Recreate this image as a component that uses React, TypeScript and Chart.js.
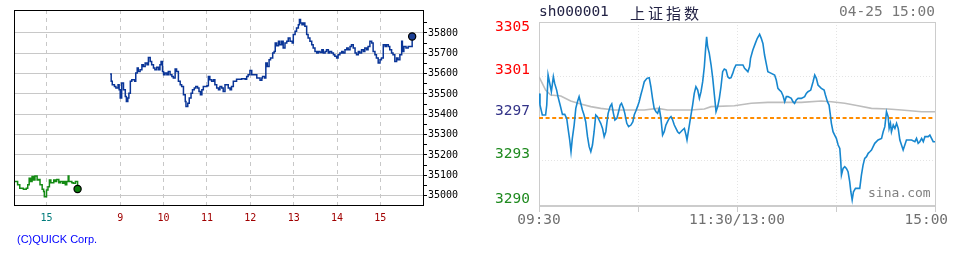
import { useEffect, useRef } from 'react';
import { Chart, registerables } from 'chart.js';
Chart.register(...registerables);

// ---------- Left chart (QUICK, Nikkei) ----------
const nkTickPos = [0, 102, 162, 222, 282, 342, 402, 462];
const nkTickLabels = ['15', '9', '10', '11', '12', '13', '14', '15'];
const nkYTicks = [35000, 35100, 35200, 35300, 35400, 35500, 35600, 35700, 35800];
const nkPrevTimes = [-44, -41, -40, -37, -32, -28, -26, -24, -22, -20, -18, -16, -13, -11, -9, -6, -4, -3, 0, 2, 4, 6, 10, 12, 14, 17, 19, 22, 24, 26, 28, 30, 31, 35, 37, 40, 43, 43];
const nkPrevValues = [35069, 35069, 35053, 35036, 35031, 35036, 35053, 35086, 35069, 35094, 35077, 35097, 35077, 35080, 35053, 35031, 35020, 34995, 35028, 35044, 35077, 35064, 35077, 35069, 35080, 35064, 35069, 35061, 35069, 35053, 35069, 35097, 35069, 35064, 35061, 35069, 35069, 35033];
const nkTimes = [88, 89.5, 91, 94, 96, 99, 100.5, 102, 104, 106.5, 109, 110.5, 112.5, 114, 116, 118, 122, 123.5, 125.5, 127, 129.5, 132, 134, 136.5, 139, 141, 143.5, 145.5, 148, 150, 152.5, 155, 157, 158.5, 160.5, 162, 164, 166.5, 168.5, 171, 173.5, 175.5, 178, 180, 182.5, 185, 187, 189.5, 192, 193, 195.5, 197.5, 200, 202, 204.5, 206.5, 209, 211, 213, 215, 217, 222, 224, 226, 228.5, 231, 233, 235.5, 238, 240, 242.5, 244.5, 247, 249.5, 251.5, 254, 256, 258.5, 261, 263, 270, 275, 277, 279, 281.5, 284, 288.5, 291, 295.5, 298, 299, 302, 303.5, 305.5, 308, 310, 313, 315, 316.5, 318.5, 321, 323, 325.5, 327.5, 330, 332.5, 334.5, 337, 340, 341.5, 344, 346, 348.5, 350, 351.5, 353.5, 355.5, 357.5, 360, 362, 364.5, 367, 369, 371.5, 374, 376, 378.5, 381, 383, 385.5, 387.5, 390, 392, 394.5, 397, 399, 401.5, 403.5, 406, 408.5, 410.5, 413, 415.5, 417.5, 420, 422, 424.5, 427, 429, 431.5, 433.5, 436, 438.5, 440.5, 443, 445, 447.5, 450, 452, 454.5, 456.5, 459, 461.5, 463.5, 466, 468.5, 470.5, 473, 475, 477.5, 479.5, 482, 484.5, 486.5, 489, 491.5, 492.5, 494.5, 497.5, 500.5, 505, 506];
const nkValues = [35598, 35562, 35545, 35537, 35529, 35545, 35521, 35480, 35554, 35521, 35488, 35463, 35480, 35504, 35562, 35570, 35562, 35603, 35628, 35611, 35619, 35644, 35635, 35652, 35644, 35680, 35660, 35644, 35628, 35619, 35632, 35619, 35644, 35660, 35611, 35595, 35603, 35595, 35611, 35595, 35586, 35578, 35623, 35611, 35562, 35545, 35537, 35496, 35463, 35438, 35455, 35480, 35504, 35521, 35529, 35537, 35529, 35512, 35496, 35521, 35537, 35540, 35586, 35570, 35562, 35570, 35545, 35529, 35521, 35537, 35529, 35512, 35545, 35545, 35529, 35521, 35537, 35562, 35562, 35573, 35575, 35573, 35586, 35595, 35616, 35595, 35595, 35578, 35567, 35578, 35586, 35578, 35652, 35635, 35668, 35677, 35701, 35709, 35751, 35737, 35759, 35742, 35759, 35726, 35751, 35759, 35775, 35759, 35751, 35792, 35808, 35825, 35841, 35866, 35849, 35841, 35849, 35833, 35792, 35775, 35759, 35742, 35726, 35709, 35701, 35709, 35704, 35718, 35701, 35709, 35718, 35701, 35709, 35701, 35693, 35685, 35677, 35693, 35701, 35709, 35701, 35718, 35726, 35718, 35734, 35742, 35726, 35701, 35693, 35709, 35701, 35718, 35709, 35726, 35718, 35734, 35759, 35751, 35709, 35693, 35677, 35652, 35668, 35677, 35742, 35734, 35742, 35734, 35718, 35701, 35693, 35660, 35677, 35668, 35693, 35759, 35709, 35734, 35726, 35734, 35734, 35783];

// ---------- Right chart (sina, sh000001) ----------
const shPrevClose = 3297.29;
const shXTicks = [0, 60, 120, 180, 240];
const shXLabels = ['09:30', '', '11:30/13:00', '', '15:00  '];
const shYLabelValues = [3290.2, 3294.12, 3297.86, 3301.46, 3305.2];
const shYLabels = ['3290', '3293', '3297', '3301', '3305'];
const shYLabelColors = ['#1f8a1f', '#1f8a1f', '#333388', '#ff0000', '#ff0000'];
const shGridValues = [3293.64, 3300.94];
const shTimes = [0, 0.6, 2, 4, 4.7, 5.5, 6.7, 7.5, 8.7, 9.5, 10.7, 11.5, 12.8, 14.2, 15.6, 16.8, 17.6, 18.6, 19.4, 20.2, 21.3, 22.3, 23.3, 24.3, 25.3, 26.3, 27.3, 28.3, 29.4, 30.4, 31.4, 32.4, 33.4, 34.4, 35.4, 36.4, 37.4, 38.5, 39.5, 40.5, 41.1, 41.9, 43.1, 44.1, 45.1, 46, 47.2, 48, 49.2, 50, 51.2, 52, 53.2, 54.3, 55.7, 56.9, 57.7, 58.7, 59.7, 60.7, 61.7, 62.8, 63.8, 65.4, 66.8, 67.8, 68.8, 69.8, 70.9, 71.9, 72.9, 73.9, 74.9, 75.9, 76.9, 77.9, 78.9, 80, 81, 82, 83, 84, 85, 86, 87, 88.1, 89.1, 89.7, 90.5, 91.3, 92.1, 93.1, 94.1, 95.1, 96.2, 97.2, 98.2, 99.2, 100.2, 101, 101.6, 102.2, 103.2, 104.3, 105.3, 106.3, 107.3, 108.3, 109.3, 110.3, 111.3, 112.3, 113.4, 114.4, 115.4, 116.4, 117.4, 118.4, 119.4, 120.5, 123.6, 124.6, 126.6, 127.6, 128.2, 129.6, 131.1, 132.3, 133.7, 134.7, 135.7, 136.7, 137.7, 138.7, 140.8, 142.8, 143.8, 144.8, 145.8, 146.8, 147.9, 148.9, 149.9, 150.9, 152.9, 153.9, 154.9, 155.9, 157, 159, 161, 162, 163, 164.7, 166.1, 167.1, 168.1, 169.1, 171.1, 172.8, 173.6, 174.8, 175.8, 176.6, 177.2, 178.2, 179.2, 180.2, 181.3, 182.3, 182.9, 183.3, 184.3, 185.3, 186.3, 187.3, 188.3, 189, 189.8, 190.6, 191.8, 194.4, 195.4, 196.4, 197.4, 198.5, 199.5, 200.5, 201.5, 202.5, 203.5, 205.5, 207.6, 208.6, 209.6, 210.6, 211.6, 212.2, 213, 213.6, 214.7, 215.7, 216.7, 217.7, 218.7, 219.7, 220.7, 221.7, 222.7, 225.8, 227.8, 228.8, 229.8, 230.8, 231.9, 232.9, 233.9, 235.9, 236.9, 237.9, 238.9, 240];
const shPrices = [3299.43, 3298.42, 3297.55, 3297.55, 3298.42, 3301.03, 3300.16, 3299.58, 3300.88, 3300.3, 3299.72, 3299.15, 3298.42, 3297.61, 3297.61, 3297.26, 3296.39, 3295.38, 3294.36, 3295.52, 3296.68, 3298.13, 3298.71, 3299.15, 3298.57, 3297.99, 3297.55, 3296.97, 3295.67, 3294.8, 3294.36, 3294.94, 3296.1, 3297.55, 3297.41, 3297.12, 3296.83, 3296.39, 3295.67, 3296.1, 3296.83, 3297.7, 3298.28, 3298.51, 3297.7, 3297.12, 3297.26, 3297.7, 3298.42, 3298.57, 3298.13, 3297.7, 3296.83, 3296.54, 3296.68, 3296.97, 3297.55, 3297.9, 3298.28, 3298.71, 3299.29, 3299.87, 3300.45, 3300.74, 3300.8, 3300.01, 3299.0, 3298.13, 3297.84, 3297.7, 3298.13, 3297.26, 3295.81, 3296.1, 3296.68, 3296.97, 3297.26, 3297.41, 3297.12, 3296.68, 3296.39, 3296.1, 3295.96, 3296.1, 3296.25, 3296.39, 3295.81, 3295.38, 3296.1, 3296.83, 3297.55, 3298.42, 3299.43, 3300.01, 3299.72, 3299.0, 3299.58, 3300.45, 3301.75, 3303.35, 3304.36, 3303.49, 3302.91, 3301.9, 3300.74, 3299.29, 3297.84, 3298.28, 3299.0, 3300.01, 3301.32, 3301.55, 3301.46, 3300.88, 3300.74, 3300.8, 3301.17, 3301.61, 3301.9, 3301.9, 3301.9, 3301.61, 3301.32, 3301.75, 3302.48, 3303.2, 3303.78, 3304.22, 3304.57, 3304.22, 3303.78, 3302.77, 3302.04, 3301.32, 3301.17, 3301.03, 3300.59, 3299.87, 3299.72, 3299.58, 3299.23, 3298.71, 3299.15, 3299.15, 3299.0, 3298.71, 3298.57, 3298.86, 3299.0, 3299.0, 3299.15, 3299.43, 3299.58, 3299.72, 3300.45, 3301.03, 3300.74, 3300.16, 3299.87, 3299.72, 3299.29, 3298.71, 3298.42, 3297.55, 3296.83, 3296.1, 3295.81, 3295.52, 3294.94, 3294.65, 3293.49, 3292.33, 3292.91, 3293.06, 3292.91, 3292.62, 3291.75, 3290.88, 3290.16, 3290.88, 3291.17, 3291.17, 3292.33, 3293.2, 3293.78, 3293.93, 3294.22, 3294.36, 3294.51, 3294.8, 3295.09, 3295.38, 3295.52, 3296.1, 3296.54, 3297.84, 3297.41, 3296.39, 3296.83, 3296.1, 3296.68, 3296.39, 3296.83, 3296.39, 3295.38, 3294.94, 3294.51, 3294.94, 3295.38, 3295.38, 3295.23, 3295.52, 3295.09, 3295.23, 3295.52, 3295.23, 3295.67, 3295.67, 3295.81, 3295.52, 3295.23, 3295.23];
const shAvgTimes = [0, 2, 4, 7.1, 13.2, 19.2, 25.3, 31.4, 37.4, 45.5, 63.8, 71.9, 77.9, 92.1, 100.2, 104.3, 118.4, 128.6, 138.7, 159, 171.1, 177.2, 185.3, 193.4, 201.5, 211.6, 219.7, 231.9, 240];
const shAvgPrices = [3300.88, 3300.3, 3299.72, 3299.29, 3299.2, 3298.77, 3298.51, 3298.28, 3298.13, 3297.99, 3297.99, 3298.13, 3297.99, 3297.99, 3298.07, 3298.28, 3298.36, 3298.57, 3298.65, 3298.65, 3298.77, 3298.71, 3298.57, 3298.36, 3298.13, 3298.07, 3297.99, 3297.84, 3297.84];

const pts = (xs: number[], ys: number[]) => xs.map((x, i) => ({ x, y: ys[i] }));
const lastDot = (n: number, r: number) => (ctx: any) => (ctx.dataIndex === n - 1 ? r : 0);

const leftFrame = {
  id: 'leftFrame',
  afterDatasetsDraw(chart: any) {
    const { ctx, chartArea: a } = chart;
    ctx.save();
    ctx.strokeStyle = '#000';
    ctx.lineWidth = 1;
    ctx.strokeRect(a.left + 0.5, a.top + 0.5, a.right - a.left, a.bottom - a.top);
    ctx.restore();
  },
};

const rightFrame = {
  id: 'rightFrame',
  beforeDatasetsDraw(chart: any) {
    const { ctx, chartArea: a } = chart;
    ctx.save();
    ctx.strokeStyle = '#cccccc';
    ctx.lineWidth = 1;
    ctx.strokeRect(a.left + 0.5, a.top + 0.5, a.right - a.left, a.bottom - a.top);
    ctx.beginPath();
    ctx.moveTo(a.left, a.bottom - 0.5);
    ctx.lineTo(a.right + 1, a.bottom - 0.5);
    ctx.stroke();
    ctx.restore();
  },
};

const noPad = (s: any) => {
  s.paddingLeft = 0; s.paddingRight = 0; s.paddingTop = 0; s.paddingBottom = 0;
};

function leftConfig(): any {
  const minor: number[] = [];
  nkYTicks.forEach((v) => { minor.push(v); minor.push(v + 50); });
  return {
    type: 'line',
    data: {
      datasets: [
        {
          data: pts(nkTimes, nkValues),
          borderColor: '#0a3597',
          borderWidth: 1.5,
          stepped: true,
          pointRadius: lastDot(nkTimes.length, 3.6),
          pointBackgroundColor: '#1c3f94',
          pointBorderColor: '#000',
          pointBorderWidth: 1.2,
        },
        {
          data: pts(nkPrevTimes, nkPrevValues),
          borderColor: '#138a13',
          borderWidth: 1.5,
          stepped: true,
          pointRadius: lastDot(nkPrevTimes.length, 3.6),
          pointBackgroundColor: '#0c800c',
          pointBorderColor: '#000',
          pointBorderWidth: 1.2,
        },
      ],
    },
    options: {
      responsive: false,
      animation: false,
      events: [],
      layout: { padding: { left: 14, top: 10, right: 0, bottom: 0 } },
      plugins: { legend: { display: false }, tooltip: { enabled: false } },
      scales: {
        x: {
          type: 'linear',
          min: -45,
          max: 521,
          afterBuildTicks: (s: any) => { s.ticks = nkTickPos.map((v) => ({ value: v })); },
          afterFit: (s: any) => { s.height = 55; noPad(s); },
          ticks: {
            autoSkip: false,
            maxRotation: 0,
            padding: 7,
            font: { family: 'DejaVu Sans Mono', size: 10 },
            color: (ctx: any) => (ctx.index === 0 ? '#007b7b' : '#a00000'),
            callback: (_v: any, i: number) => nkTickLabels[i],
          },
          grid: { color: '#c8c8c8', drawTicks: false },
          border: { display: false, dash: [4, 4] },
        },
        y: {
          type: 'linear',
          position: 'right',
          min: 34954,
          max: 35913,
          afterBuildTicks: (s: any) => { s.ticks = minor.filter((v) => v <= 35900).map((v) => ({ value: v })); },
          afterFit: (s: any) => { s.width = 47; noPad(s); },
          ticks: {
            autoSkip: false,
            padding: 1,
            font: { family: 'DejaVu Sans Mono', size: 10 },
            color: '#000',
            callback: (v: any) => (v % 100 === 0 ? String(v) : ''),
          },
          grid: {
            color: (ctx: any) => (ctx.tick && ctx.tick.value % 100 === 0 ? '#c8c8c8' : 'rgba(0,0,0,0)'),
            tickColor: '#000',
            tickLength: 4,
          },
          border: { display: false },
        },
      },
    },
    plugins: [leftFrame],
  };
}

function rightConfig(): any {
  const yMin = 3289.64;
  const yMax = 3305.64;
  return {
    type: 'line',
    data: {
      datasets: [
        {
          data: pts(shTimes, shPrices),
          borderColor: '#1787cf',
          borderWidth: 1.6,
          pointRadius: 0,
        },
        {
          data: pts([0, 240], [shPrevClose, shPrevClose]),
          borderColor: '#ff8c00',
          borderWidth: 2,
          borderDash: [4, 2.6],
          pointRadius: 0,
        },
        {
          data: pts(shAvgTimes, shAvgPrices),
          borderColor: '#bdbdbd',
          borderWidth: 1.6,
          pointRadius: 0,
        },
      ],
    },
    options: {
      responsive: false,
      animation: false,
      events: [],
      layout: { padding: { left: 0, top: 22, right: 20, bottom: 0 } },
      plugins: { legend: { display: false }, tooltip: { enabled: false } },
      scales: {
        x: {
          type: 'linear',
          min: 0,
          max: 240,
          afterBuildTicks: (s: any) => { s.ticks = shXTicks.map((v) => ({ value: v })); },
          afterFit: (s: any) => { s.height = 54; noPad(s); },
          ticks: {
            autoSkip: false,
            maxRotation: 0,
            padding: 0,
            font: { family: 'DejaVu Sans Mono', size: 14.5 },
            color: '#707070',
            callback: (_v: any, i: number) => shXLabels[i],
          },
          grid: {
            color: (ctx: any) => (ctx.index === 0 || ctx.index === shXTicks.length - 1 ? 'rgba(0,0,0,0)' : '#e4e4e4'),
            tickColor: '#cccccc',
            tickLength: 6,
          },
          border: { display: false, dash: [1, 2] },
        },
        y: {
          type: 'linear',
          position: 'left',
          min: yMin,
          max: yMax,
          afterBuildTicks: (s: any) => { s.ticks = shYLabelValues.map((v) => ({ value: v })); },
          afterFit: (s: any) => { s.width = 69; noPad(s); },
          ticks: {
            autoSkip: false,
            padding: 9,
            font: { family: 'DejaVu Sans Mono', size: 14.5 },
            color: (ctx: any) => shYLabelColors[ctx.index],
            callback: (_v: any, i: number) => shYLabels[i],
          },
          grid: { display: false, drawTicks: false },
          border: { display: false },
        },
        yGrid: {
          type: 'linear',
          position: 'left',
          min: yMin,
          max: yMax,
          afterBuildTicks: (s: any) => { s.ticks = shGridValues.map((v) => ({ value: v })); },
          afterFit: (s: any) => { s.width = 0; noPad(s); },
          ticks: { display: false },
          grid: { color: '#e4e4e4', drawTicks: false },
          border: { display: false, dash: [1, 2] },
        },
      },
    },
    plugins: [rightFrame],
  };
}

export default function App() {
  const leftRef = useRef<HTMLCanvasElement>(null);
  const rightRef = useRef<HTMLCanvasElement>(null);
  useEffect(() => {
    const c1 = new Chart(leftRef.current as HTMLCanvasElement, leftConfig());
    const c2 = new Chart(rightRef.current as HTMLCanvasElement, rightConfig());
    return () => {
      c1.destroy();
      c2.destroy();
    };
  }, []);

  const mono = 'DejaVu Sans Mono, monospace';
  return (
    <div style={{ position: 'fixed', left: 0, top: 0, width: 955, height: 260, background: '#fff', overflow: 'hidden' }}>
      <canvas ref={leftRef} width={470} height={260} style={{ position: 'absolute', left: 0, top: 0, width: 470, height: 260 }} />
      <canvas ref={rightRef} width={485} height={260} style={{ position: 'absolute', left: 470, top: 0, width: 485, height: 260 }} />
      <div style={{ position: 'absolute', left: 17, top: 234, fontFamily: 'Liberation Sans, Arial, sans-serif', fontSize: 11, lineHeight: '11px', color: '#0000ff', whiteSpace: 'nowrap' }}>
        (C)QUICK Corp.
      </div>
      <div style={{ position: 'absolute', left: 539, top: 4, fontFamily: mono, fontSize: 14.5, lineHeight: '14.5px', color: '#222244', whiteSpace: 'nowrap' }}>
        sh000001
      </div>
      <div style={{ position: 'absolute', left: 630, top: 5, fontFamily: 'Noto Sans CJK SC, sans-serif', fontSize: 15, lineHeight: '15px', letterSpacing: 3, color: '#222244', whiteSpace: 'nowrap' }}>
        上证指数
      </div>
      <div style={{ position: 'absolute', left: 839, top: 4, fontFamily: mono, fontSize: 14.5, lineHeight: '14.5px', color: '#777777', whiteSpace: 'nowrap' }}>
        04-25 15:00
      </div>
      <div style={{ position: 'absolute', left: 868, top: 186, fontFamily: mono, fontSize: 13, lineHeight: '13px', color: '#808080', whiteSpace: 'nowrap' }}>
        sina.com
      </div>
    </div>
  );
}
